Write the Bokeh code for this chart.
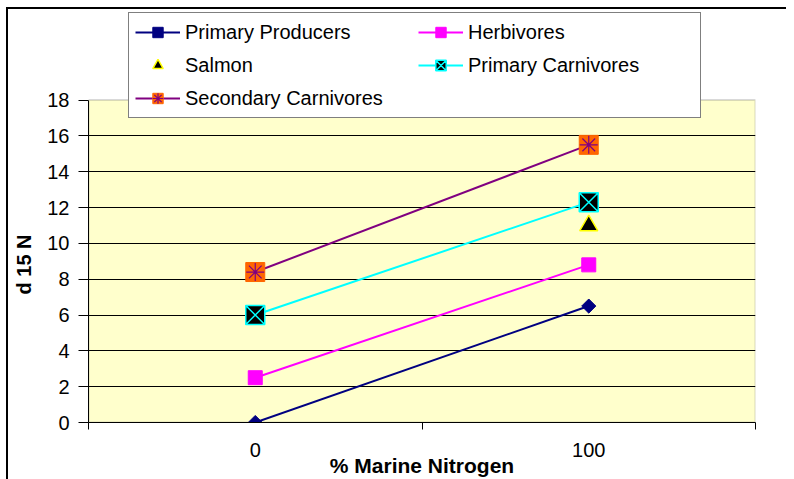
import math
from bokeh.plotting import figure
from bokeh.models import FixedTicker, Legend, LegendItem, BoxAnnotation, Range1d, Title
from bokeh.embed import file_html
from bokeh.resources import INLINE

# ---- data ----
x_vals = [0, 100]
x_tick_labels = ["0", "100"]
primary_producers = [0, 6.5]
herbivores = [2.5, 8.8]
salmon_x = [100]
salmon = [11]
primary_carnivores = [6, 12.3]
secondary_carnivores = [8.4, 15.5]
y_ticks = [0, 2, 4, 6, 8, 10, 12, 14, 16, 18]
y_min, y_max = 0, 18

FONT = "Liberation Sans"

p = figure(width=786, height=479, output_backend="svg", toolbar_location=None,
           x_range=Range1d(-50, 150), y_range=Range1d(y_min, 23),
           min_border_left=88, min_border_right=31, min_border_top=10, min_border_bottom=56)
# chart-area frame (top and left edges visible)
p.styles = {"box-shadow": "inset 6px 7px 0 0 white, inset 8px 9px 0 0 black"}

p.background_fill_color = "white"
p.background_fill_alpha = 0.0
p.border_fill_alpha = 0.0
p.outline_line_color = None

# plot area (yellow, grey border) limited to the value axis span
plot_area = BoxAnnotation(bottom=y_min, top=y_max, fill_color="#FFFFCC", fill_alpha=1.0,
                          line_color="#808080", line_width=2, level="image")
p.add_layout(plot_area)

# axes
p.xaxis.ticker = FixedTicker(ticks=x_vals, minor_ticks=[-50, 50, 150])
p.xaxis.major_label_overrides = {x: lab for x, lab in zip(x_vals, x_tick_labels)}
p.xaxis.major_tick_out = 0
p.xaxis.major_tick_in = 0
p.xaxis.minor_tick_out = 7
p.xaxis.minor_tick_in = 0
p.xaxis.minor_tick_line_color = "black"
p.xaxis.major_label_standoff = 13
p.xaxis.axis_label = "% Marine Nitrogen"
p.xaxis.axis_label_standoff = -6

p.yaxis.ticker = FixedTicker(ticks=y_ticks)
p.yaxis.bounds = (y_min, y_max)
p.yaxis.minor_tick_line_color = None
p.yaxis.major_tick_out = 10
p.yaxis.major_tick_in = 0
p.yaxis.major_label_standoff = 9

for ax in (p.xaxis, p.yaxis):
    ax.axis_line_color = "black"
    ax.major_tick_line_color = "black"
    ax.major_label_text_font = FONT
    ax.major_label_text_font_size = "20px"
    ax.major_label_text_color = "black"
    ax.axis_label_text_font = FONT
    ax.axis_label_text_font_size = "21px"
    ax.axis_label_text_font_style = "bold"
    ax.axis_label_text_color = "black"

ytitle = Title(text="d 15 N", align="left", offset=128, standoff=20,
               text_font=FONT, text_font_size="20px", text_font_style="bold",
               text_color="black")
p.add_layout(ytitle, "left")

p.xgrid.visible = False
p.ygrid.ticker = FixedTicker(ticks=y_ticks[:-1])
p.ygrid.grid_line_color = "black"
p.ygrid.grid_line_width = 1

# series
pp_l = p.line(x_vals, primary_producers, line_color="#000080", line_width=2)
pp_m = p.scatter(x_vals, primary_producers, marker="square", angle=math.pi / 4, size=10,
                 fill_color="#000080", line_color="#000080")

hb_l = p.line(x_vals, herbivores, line_color="#FF00FF", line_width=2)
hb_m = p.scatter(x_vals, herbivores, marker="square", size=14,
                 fill_color="#FF00FF", line_color="#FF00FF")

sa_m = p.scatter(salmon_x, salmon, marker="triangle", size=18,
                 fill_color="black", line_color="#FFFF00", line_width=1.5)

pc_l = p.line(x_vals, primary_carnivores, line_color="#00FFFF", line_width=2)
pc_m = p.scatter(x_vals, primary_carnivores, marker="square_x", size=19,
                 fill_color="black", line_color="#00FFFF", line_width=1.5)

sc_l = p.line(x_vals, secondary_carnivores, line_color="#800080", line_width=2)
sc_s = p.scatter(x_vals, secondary_carnivores, marker="square", size=19,
                 fill_color="#FF6600", line_color="#FF6600")
sc_a = p.scatter(x_vals, secondary_carnivores, marker="asterisk", size=18,
                 line_color="#800080", line_width=1.2)

items = [
    LegendItem(label="Primary Producers", renderers=[pp_l, pp_m]),
    LegendItem(label="Salmon", renderers=[sa_m]),
    LegendItem(label="Secondary Carnivores", renderers=[sc_l, sc_s, sc_a]),
    LegendItem(label="Herbivores", renderers=[hb_l, hb_m]),
    LegendItem(label="Primary Carnivores", renderers=[pc_l, pc_m]),
]
legend = Legend(items=items, location=(40, 304), ncols=2,
                label_text_font=FONT, label_text_font_size="20px",
                label_text_color="black",
                glyph_width=45, glyph_height=26, label_height=20, label_width=226,
                label_standoff=5, spacing=7, padding=6,
                border_line_color="black", border_line_width=1,
                background_fill_color="white", background_fill_alpha=1.0)
p.add_layout(legend, "center")

open("out.html", "w").write(file_html(p, INLINE))
